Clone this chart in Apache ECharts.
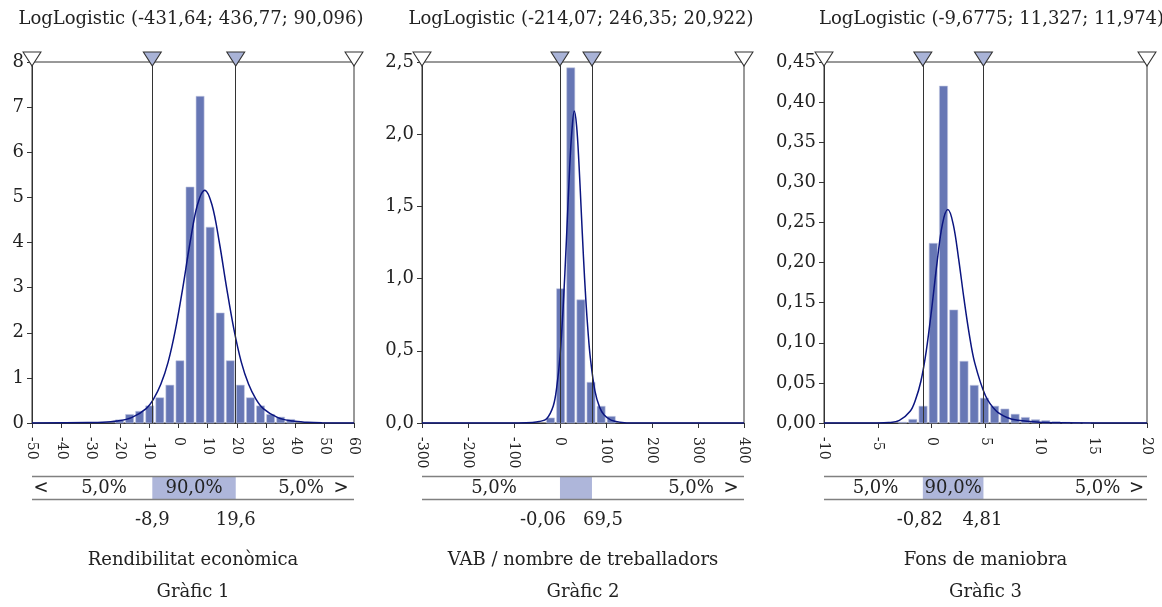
<!DOCTYPE html>
<html>
<head>
<meta charset="utf-8">
<script src="https://cdn.jsdelivr.net/npm/echarts@6/dist/echarts.min.js"></script>
<style>
  html, body { margin: 0; padding: 0; background: #fff; }
  #chart { width: 1162px; height: 607px; }
</style>
</head>
<body>
<div id="chart"></div>
<script>
// --- data ---
const varNames = ["Rendibilitat econòmica", "VAB / nombre de treballadors", "Fons de maniobra"];
const captions = ["Gràfic 1", "Gràfic 2", "Gràfic 3"];
const llGamma = [-431.64, -214.07, -9.6775];
const llBeta = [436.77, 246.35, 11.327];
const llAlpha = [90.096, 20.922, 11.974];
const pct5 = [-8.9, -0.06, -0.82];
const pct95 = [19.6, 69.5, 4.81];
const tailShare = 5.0;
const midShare = 90.0;

const xMin = [-50, -300, -10];
const xMax = [60, 400, 20];
const xStep = [10, 100, 5];
const yMax = [8, 2.5, 0.45];
const yStep = [1, 0.5, 0.05];
const yDecimals = [0, 1, 2];

// histogram bins: first bin centre, bin width, heights
const binStart1 = -20.1, binWidth1 = 3.44;
const hist1 = [0.07, 0.19, 0.26, 0.38, 0.56, 0.84, 1.38, 5.23, 7.24, 4.34, 2.44, 1.38, 0.84, 0.56, 0.38, 0.19, 0.13, 0.08];
const binStart2 = -20.6, binWidth2 = 22.0;
const hist2 = [0.035, 0.93, 2.46, 0.853, 0.282, 0.116, 0.046];
const binStart3 = -2.7, binWidth3 = 0.95;
const hist3 = [0.001, 0.0046, 0.021, 0.224, 0.420, 0.141, 0.077, 0.047, 0.031, 0.021, 0.0175, 0.011, 0.007, 0.0042, 0.003, 0.0018, 0.001, 0.0006, 0.0003];

// fitted curves, points
const curve1 = [[-50, 0], [-31, 0.01], [-26, 0.015], [-21, 0.042], [-16, 0.118], [-11, 0.32], [-8.5, 0.53], [-6, 0.857],
  [-3.5, 1.35], [-1, 2.07], [1.5, 2.99], [4, 4.0], [6.5, 4.83], [9, 5.16], [11.5, 4.83], [14, 4.0], [16.5, 2.99],
  [19, 2.07], [21.5, 1.35], [24, 0.857], [26.5, 0.53], [29, 0.32], [34, 0.118], [39, 0.042], [44, 0.015], [49, 0.005], [60, 0]];
const curve2 = [[-300, 0], [-90, 0], [-60, 0.003], [-45, 0.01], [-29, 0.03], [-14.5, 0.12], [-7, 0.25], [0, 0.46],
  [7, 0.81], [14, 1.27], [21, 1.77], [26, 2.03], [31, 2.16], [36, 2.06], [41, 1.81], [46, 1.48], [51, 1.15],
  [56, 0.86], [61, 0.63], [66, 0.45], [76, 0.22], [86, 0.11], [96, 0.055], [111, 0.02], [130, 0.006], [160, 0], [400, 0]];
const curve3 = [[-10, 0], [-5, 0], [-4, 0.0005], [-3, 0.0032], [-2, 0.0146], [-1.5, 0.029], [-1, 0.052], [-0.5, 0.09],
  [0, 0.142], [0.5, 0.2], [1, 0.248], [1.5, 0.266], [2, 0.248], [2.5, 0.205], [3, 0.155], [3.5, 0.11], [4, 0.075],
  [5, 0.034], [6, 0.015], [7, 0.0069], [8, 0.0033], [10, 0.0008], [12, 0.0002], [20, 0]];

// --- layout ---
const FONT = "DejaVu Serif";
const TEXT = "#222";
const gridLeft = [32, 422, 824];
const gridWidth = [322, 322, 323];
const gridTop = 62, gridHeight = 361;
const bandLayout = [
  { lt: "<", ltOff: 9, leftOff: 72, mid: true, rightOff: 53, gtOff: 13, valShift: [0, 0] },
  { lt: "", ltOff: 9, leftOff: 72, mid: false, rightOff: 53, gtOff: 13, valShift: [-17, 11] },
  { lt: "", ltOff: 9, leftOff: 51.5, mid: true, rightOff: 49.5, gtOff: 10.5, valShift: [-3, -1] }
];

const fmt = v => String(v).replace(".", ",");
const pctText = v => v.toFixed(1).replace(".", ",") + "%";

const bins = [
  { start: binStart1, width: binWidth1, hist: hist1 },
  { start: binStart2, width: binWidth2, hist: hist2 },
  { start: binStart3, width: binWidth3, hist: hist3 }
];
const curves = [curve1, curve2, curve3];

const tri = "path://M0 0L20 0L10 15Z";

function textEl(text, x, y, size, align) {
  return {
    type: "text", x: x, y: y,
    style: {
      text: text, fill: TEXT, fontSize: size, fontFamily: FONT,
      align: align || "center", verticalAlign: "middle",
      textAlign: align || "center", textVerticalAlign: "middle"
    }
  };
}

const chart = echarts.init(document.getElementById("chart"));

const grids = [], xAxes = [], yAxes = [], series = [], graphics = [];

for (let i = 0; i < 3; i++) {
  grids.push({
    left: gridLeft[i], width: gridWidth[i], top: gridTop, height: gridHeight,
    show: true, borderColor: "#333", borderWidth: 1, backgroundColor: "transparent"
  });
  xAxes.push({
    gridIndex: i, type: "value", min: xMin[i], max: xMax[i], interval: xStep[i],
    axisLine: { show: true, onZero: false, lineStyle: { color: "#333", width: 1 } },
    axisTick: { show: true, length: 5, lineStyle: { color: "#333" } },
    axisLabel: { rotate: -90, fontSize: 14, fontFamily: FONT, color: TEXT, margin: 14, formatter: fmt },
    splitLine: { show: false }
  });
  const dec = yDecimals[i];
  yAxes.push({
    gridIndex: i, type: "value", min: 0, max: yMax[i], interval: yStep[i],
    axisLine: { show: true, onZero: false, lineStyle: { color: "#333", width: 1 } },
    axisTick: { show: true, length: 5, lineStyle: { color: "#333" } },
    axisLabel: { fontSize: 18, fontFamily: FONT, color: TEXT, margin: 8, formatter: v => v.toFixed(dec).replace(".", ",") },
    splitLine: { show: false }
  });

  const b = bins[i];
  series.push({
    type: "custom", xAxisIndex: i, yAxisIndex: i, z: 2,
    data: b.hist.map((h, k) => [b.start + k * b.width, h]),
    renderItem: (params, api) => {
      const c = api.value(0), h = api.value(1);
      const p0 = api.coord([c - b.width / 2, h]);
      const p1 = api.coord([c + b.width / 2, 0]);
      return {
        type: "rect",
        shape: { x: p0[0] + 1, y: p0[1], width: p1[0] - p0[0] - 2, height: p1[1] - p0[1] },
        style: { fill: "#6777b5", stroke: "#c2c8e2", lineWidth: 0.6 }
      };
    }
  });

  const ym = yMax[i];
  series.push({
    type: "line", xAxisIndex: i, yAxisIndex: i, z: 4,
    data: curves[i], smooth: 0.35, symbol: "none",
    lineStyle: { color: "#0b1580", width: 1.5 },
    markLine: {
      silent: true, symbol: "none", label: { show: false },
      lineStyle: { color: "#333", width: 1, type: "solid" },
      data: [{ xAxis: pct5[i] }, { xAxis: pct95[i] }]
    },
    markPoint: {
      silent: true, symbol: tri, symbolSize: [18, 14], symbolOffset: [0, -3],
      label: { show: false },
      data: [
        { coord: [xMin[i], ym], itemStyle: { color: "#fff", borderColor: "#333", borderWidth: 1 } },
        { coord: [pct5[i], ym], itemStyle: { color: "#a9b3d7", borderColor: "#333", borderWidth: 1 } },
        { coord: [pct95[i], ym], itemStyle: { color: "#a9b3d7", borderColor: "#333", borderWidth: 1 } },
        { coord: [xMax[i], ym], itemStyle: { color: "#fff", borderColor: "#333", borderWidth: 1 } }
      ]
    }
  });

  // percentile band under the axis
  const L = bandLayout[i];
  const lo = xMin[i], hi = xMax[i];
  series.push({
    type: "custom", xAxisIndex: i, yAxisIndex: i, z: 5, clip: false,
    data: [[pct5[i], pct95[i], 0]],
    encode: { x: [0, 1], y: 2 },
    renderItem: (params, api) => {
      const a = api.coord([api.value(0), 0]);
      const c = api.coord([api.value(1), 0]);
      const left = api.coord([lo, 0])[0];
      const right = api.coord([hi, 0])[0];
      const base = a[1];
      const top = base + 53.5, bot = base + 76.5, mid = base + 65.5;
      const kids = [
        { type: "rect", shape: { x: a[0], y: top, width: c[0] - a[0], height: bot - top }, style: { fill: "#aeb6da" } },
        { type: "line", shape: { x1: left, y1: top, x2: right, y2: top }, style: { stroke: "#808080", lineWidth: 1.5 } },
        { type: "line", shape: { x1: left, y1: bot, x2: right, y2: bot }, style: { stroke: "#808080", lineWidth: 1.5 } },
        textEl(pctText(tailShare), left + L.leftOff, mid, 18),
        textEl(pctText(tailShare), right - L.rightOff, mid, 18),
        textEl(">", right - L.gtOff, mid, 18),
        textEl(fmt(pct5[i]), a[0] + L.valShift[0], base + 97.5, 18),
        textEl(fmt(pct95[i]), c[0] + L.valShift[1], base + 97.5, 18)
      ];
      if (L.lt) kids.push(textEl(L.lt, left + L.ltOff, mid, 18));
      if (L.mid) kids.push(textEl(pctText(midShare), (a[0] + c[0]) / 2, mid, 18));
      return { type: "group", children: kids };
    }
  });

  const cx = gridLeft[i] + gridWidth[i] / 2;
  const head = "LogLogistic (" + fmt(llGamma[i]) + "; " + fmt(llBeta[i]) + "; " + fmt(llAlpha[i]) + ")";
  if (i < 2) graphics.push(textEl(head, cx - 2, 19, 18));
  else graphics.push(textEl(head, 819, 19, 18, "left"));
  graphics.push(textEl(varNames[i], cx, 560, 18));
  graphics.push(textEl(captions[i], cx, 592, 18));
}

chart.setOption({
  animation: false,
  grid: grids,
  xAxis: xAxes,
  yAxis: yAxes,
  series: series,
  graphic: graphics
});

window.addEventListener("resize", () => chart.resize());
</script>
</body>
</html>
